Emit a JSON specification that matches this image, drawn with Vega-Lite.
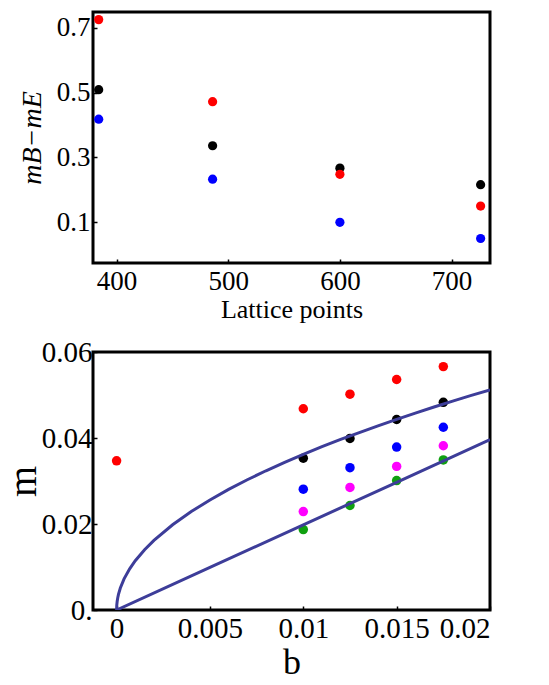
{
  "$schema": "https://vega.github.io/schema/vega-lite/v6.json",
  "padding": {"left": 1, "top": 10, "right": 0, "bottom": 0},
  "spacing": 12,
  "config": {
    "view": {"stroke": "black", "strokeWidth": 3},
    "axis": {
      "labelFont": "Liberation Serif",
      "titleFont": "Liberation Serif",
      "labelColor": "black",
      "titleColor": "black",
      "titleFontWeight": "normal",
      "tickColor": "black",
      "tickWidth": 1.5,
      "grid": false,
      "domain": false
    }
  },
  "datasets": {
    "top": [
      {"lattice": 384, "diff": 0.725, "series": "red"},
      {"lattice": 384, "diff": 0.509, "series": "black"},
      {"lattice": 384, "diff": 0.418, "series": "blue"},
      {"lattice": 486, "diff": 0.472, "series": "red"},
      {"lattice": 486, "diff": 0.336, "series": "black"},
      {"lattice": 486, "diff": 0.233, "series": "blue"},
      {"lattice": 600, "diff": 0.267, "series": "black"},
      {"lattice": 600, "diff": 0.248, "series": "red"},
      {"lattice": 600, "diff": 0.100, "series": "blue"},
      {"lattice": 726, "diff": 0.216, "series": "black"},
      {"lattice": 726, "diff": 0.150, "series": "red"},
      {"lattice": 726, "diff": 0.050, "series": "blue"}
    ],
    "bottom": [
      {"b": 0, "m": 0.0347, "series": "red"},
      {"b": 0.01, "m": 0.0468, "series": "red"},
      {"b": 0.01, "m": 0.0353, "series": "black"},
      {"b": 0.01, "m": 0.0281, "series": "blue"},
      {"b": 0.01, "m": 0.0229, "series": "magenta"},
      {"b": 0.01, "m": 0.0187, "series": "green"},
      {"b": 0.0125, "m": 0.0502, "series": "red"},
      {"b": 0.0125, "m": 0.0399, "series": "black"},
      {"b": 0.0125, "m": 0.0331, "series": "blue"},
      {"b": 0.0125, "m": 0.0285, "series": "magenta"},
      {"b": 0.0125, "m": 0.0243, "series": "green"},
      {"b": 0.015, "m": 0.0536, "series": "red"},
      {"b": 0.015, "m": 0.0443, "series": "black"},
      {"b": 0.015, "m": 0.0379, "series": "blue"},
      {"b": 0.015, "m": 0.0334, "series": "magenta"},
      {"b": 0.015, "m": 0.0301, "series": "green"},
      {"b": 0.0175, "m": 0.0566, "series": "red"},
      {"b": 0.0175, "m": 0.0483, "series": "black"},
      {"b": 0.0175, "m": 0.0425, "series": "blue"},
      {"b": 0.0175, "m": 0.0382, "series": "magenta"},
      {"b": 0.0175, "m": 0.0349, "series": "green"}
    ],
    "curves": [
      {"b": 0, "m": 0, "curve": "upper"},
      {"b": 0.00001, "m": 0.001145, "curve": "upper"},
      {"b": 0.00003, "m": 0.001983, "curve": "upper"},
      {"b": 0.00006, "m": 0.002804, "curve": "upper"},
      {"b": 0.0001, "m": 0.00362, "curve": "upper"},
      {"b": 0.0002, "m": 0.00512, "curve": "upper"},
      {"b": 0.0004, "m": 0.00724, "curve": "upper"},
      {"b": 0.0007, "m": 0.00958, "curve": "upper"},
      {"b": 0.001, "m": 0.01145, "curve": "upper"},
      {"b": 0.0015, "m": 0.01402, "curve": "upper"},
      {"b": 0.002, "m": 0.01619, "curve": "upper"},
      {"b": 0.003, "m": 0.01983, "curve": "upper"},
      {"b": 0.004, "m": 0.0229, "curve": "upper"},
      {"b": 0.005, "m": 0.0256, "curve": "upper"},
      {"b": 0.006, "m": 0.02804, "curve": "upper"},
      {"b": 0.007, "m": 0.03029, "curve": "upper"},
      {"b": 0.008, "m": 0.03238, "curve": "upper"},
      {"b": 0.009, "m": 0.03434, "curve": "upper"},
      {"b": 0.01, "m": 0.0362, "curve": "upper"},
      {"b": 0.011, "m": 0.03797, "curve": "upper"},
      {"b": 0.012, "m": 0.03966, "curve": "upper"},
      {"b": 0.013, "m": 0.04127, "curve": "upper"},
      {"b": 0.014, "m": 0.04283, "curve": "upper"},
      {"b": 0.015, "m": 0.04434, "curve": "upper"},
      {"b": 0.016, "m": 0.04579, "curve": "upper"},
      {"b": 0.017, "m": 0.0472, "curve": "upper"},
      {"b": 0.018, "m": 0.04857, "curve": "upper"},
      {"b": 0.019, "m": 0.0499, "curve": "upper"},
      {"b": 0.02, "m": 0.0512, "curve": "upper"},
      {"b": 0, "m": 0, "curve": "lower"},
      {"b": 0.005, "m": 0.0099, "curve": "lower"},
      {"b": 0.01, "m": 0.0198, "curve": "lower"},
      {"b": 0.015, "m": 0.0297, "curve": "lower"},
      {"b": 0.02, "m": 0.0396, "curve": "lower"}
    ]
  },
  "vconcat": [
    {
      "width": 397,
      "height": 251,
      "data": {"name": "top"},
      "mark": {"type": "point", "filled": true, "shape": "circle", "size": 85, "opacity": 1},
      "encoding": {
        "x": {
          "field": "lattice", "type": "quantitative",
          "scale": {"domain": [378.9, 734.4], "nice": false, "zero": false},
          "axis": {"values": [400, 500, 600, 700], "format": "d", "title": "Lattice points",
                   "titleFontSize": 26, "labelFontSize": 27, "tickSize": -4, "labelPadding": 9, "titlePadding": 2}
        },
        "y": {
          "field": "diff", "type": "quantitative",
          "scale": {"domain": [-0.0256, 0.7485], "nice": false, "zero": false},
          "axis": {"values": [0.1, 0.3, 0.5, 0.7], "format": ".1f", "title": "mB−mE",
                   "titleFontStyle": "italic", "titleFontSize": 28, "labelFontSize": 27,
                   "tickSize": -4, "labelPadding": 7, "titlePadding": 10}
        },
        "color": {
          "field": "series", "type": "nominal", "legend": null,
          "scale": {"domain": ["red", "black", "blue", "magenta", "green"],
                    "range": ["#FF0000", "#000000", "#0000FF", "#FF00FF", "#10A010"]}
        }
      }
    },
    {
      "width": 397,
      "height": 258,
      "layer": [
        {
          "data": {"name": "bottom"},
          "mark": {"type": "point", "filled": true, "shape": "circle", "size": 90, "opacity": 1},
          "encoding": {
            "x": {"field": "b", "type": "quantitative"},
            "y": {"field": "m", "type": "quantitative"},
            "color": {
              "field": "series", "type": "nominal", "legend": null,
              "scale": {"domain": ["red", "black", "blue", "magenta", "green"],
                        "range": ["#FF0000", "#000000", "#0000FF", "#FF00FF", "#10A010"]}
            }
          }
        },
        {
          "data": {"name": "curves"},
          "mark": {"type": "line", "color": "#3D3D99", "strokeWidth": 3, "clip": true},
          "encoding": {
            "x": {"field": "b", "type": "quantitative"},
            "y": {"field": "m", "type": "quantitative"},
            "detail": {"field": "curve"}
          }
        }
      ],
      "encoding": {
        "x": {
          "field": "b", "type": "quantitative",
          "scale": {"domain": [-0.001264, 0.02], "nice": false, "zero": false},
          "axis": {"values": [0, 0.005, 0.01, 0.015, 0.02], "title": "b",
                   "labelExpr": "datum.value == 0 ? '0' : format(datum.value, '~r')",
                   "titleFontSize": 36, "labelFontSize": 29, "tickSize": -4, "labelPadding": 8, "titlePadding": 2}
        },
        "y": {
          "field": "m", "type": "quantitative",
          "scale": {"domain": [0, 0.06], "nice": false, "zero": false},
          "axis": {"values": [0, 0.02, 0.04, 0.06], "title": "m",
                   "labelExpr": "datum.value == 0 ? '0.' : format(datum.value, '.2f')",
                   "titleFontSize": 40, "labelFontSize": 29, "tickSize": -4, "labelPadding": 5, "titlePadding": -2}
        }
      }
    }
  ]
}
